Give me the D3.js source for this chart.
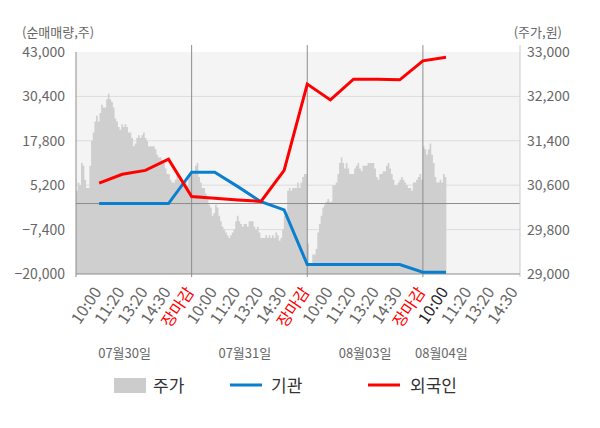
<!DOCTYPE html>
<html><head><meta charset="utf-8">
<script src="https://cdn.jsdelivr.net/npm/d3@7"></script>
<style>
body{margin:0;background:#fff}
svg{display:block}
text{font-family:"Noto Sans CJK KR","Noto Sans",sans-serif}
</style>
</head><body>
<svg id="chart" width="600" height="428"></svg>
<script>
// ---- data ----
const timeLabels = ["10:00","11:20","13:20","14:30","장마감"];
const dayLabels = ["07월30일","07월31일","08월03일","08월04일"];
const leftTicks = [-20000,-7400,5200,17800,30400,43000];
const rightTicks = [29000,29800,30600,31400,32200,33000];
// net buying at each time slot (slot 1 .. 16)
const foreignNet = [5800,8300,9400,12600,2000,1500,1000,600,9400,33900,29400,35300,35300,35100,40500,41500];
const instNet = [0,0,0,0,8900,8900,4800,500,-1800,-17300,-17300,-17300,-17300,-17300,-19500,-19500];
// intraday price per day
const priceDay1 = [30500,30650,30600,31000,30950,30700,30550,30550,30950,31400,
 31550,31750,31850,31750,31900,32050,32000,32000,32150,32250,
 32150,32100,32000,31800,31750,31650,31600,31700,31650,31700,
 31650,31550,31550,31450,31300,31350,31450,31500,31450,31500,
 31550,31450,31400,31300,31300,31300,31300,31250,31150,31100,
 31100,31050,31000,30900,30800,30800,30700,30650,30650,30700,
 30800,30700,30650,30700,30600,30650,30600,30750,30800];
const priceDay2 = [30850,30800,30950,31000,30750,30650,30550,30550,30450,30350,
 30250,30200,30050,30100,30250,30200,30050,29950,29850,29800,
 29750,29700,29650,29700,29750,29800,29950,30050,29950,29900,
 29850,29900,29900,29850,29950,29950,29950,29850,29800,29850,
 29750,29650,29650,29650,29700,29650,29700,29650,29700,29650,
 29750,29700,29600,29650,29800,30050,30100,30500,30550,30500,
 30550,30550,30550,30650,30550,30650,30750,30800,30800];
const priceDay3 = [29550,29200,29150,29350,29350,29450,29750,29900,30050,30200,
 30250,30300,30350,30300,30300,30600,30600,30650,30800,31000,
 31100,31000,30900,31000,30900,30800,30800,30800,30900,30950,
 31000,30900,30850,30950,30950,30950,31000,31000,31000,31000,
 30900,30750,30700,30800,30800,30850,30850,30950,31000,30900,
 30800,30700,30600,30600,30650,30700,30750,30700,30650,30600,
 30550,30550,30500,30650,30650,30700,30750,30800,30700];
const priceDay4 = [31300,31250,31150,31250,31350,31150,31000,30750,30650,30650,30700,30650,30800,30750];

// ---- layout ----
const svg = d3.select("#chart");
const L = 76, R = 520, T = 52, B = 274;
const nSlots = 19;
const x = d3.scaleLinear().domain([0, 19.2]).range([L, R]);
const yL = d3.scaleLinear().domain([-20000, 43000]).range([B, T]);
const yR = d3.scaleLinear().domain([29000, 33000]).range([B, T]);
const fmt = d3.format(",");

svg.append("rect").attr("x", L).attr("y", T).attr("width", R - L).attr("height", B - T).attr("fill", "#f4f4f4");

// horizontal grid
svg.append("g").selectAll("line").data(leftTicks.filter(v => v > -20000 && v < 43000)).join("line")
  .attr("x1", L).attr("x2", R).attr("y1", d => yL(d)).attr("y2", d => yL(d))
  .attr("stroke", "#dcdcdc").attr("stroke-width", 1);

// price area
const daysP = [priceDay1, priceDay2, priceDay3, priceDay4];
const pts = [];
daysP.forEach((arr, d) => {
  const step = 5 / 69;
  arr.forEach((p, i) => pts.push({s: 5 * d + i * step, p}));
});
const lastP = pts[pts.length - 1];
pts.push({s: lastP.s + 5 / 69, p: lastP.p});
svg.append("path").datum(pts)
  .attr("d", d3.area().x(d => x(d.s)).y0(B).y1(d => yR(d.p)).curve(d3.curveStepAfter))
  .attr("fill", "#cfcfcf");

// zero line
svg.append("line").attr("x1", L).attr("x2", R).attr("y1", yL(0)).attr("y2", yL(0))
  .attr("stroke", "#8c8c8c").attr("stroke-width", 1);

// day separators
svg.append("g").selectAll("line").data([5, 10, 15]).join("line")
  .attr("x1", d => x(d)).attr("x2", d => x(d)).attr("y1", T - 7).attr("y2", B + 3)
  .attr("stroke", "#8c8c8c").attr("stroke-width", 1);

// axes lines
svg.append("line").attr("x1", L).attr("x2", L).attr("y1", T).attr("y2", B + 3).attr("stroke", "#8c8c8c");
svg.append("line").attr("x1", R).attr("x2", R).attr("y1", T - 7).attr("y2", B + 3).attr("stroke", "#cccccc");
svg.append("line").attr("x1", L).attr("x2", R).attr("y1", B).attr("y2", B).attr("stroke", "#8c8c8c");

// lines
const slots = d3.range(1, foreignNet.length + 1);
const lineGen = d3.line().x(d => x(d[0])).y(d => yL(d[1]));
svg.append("path").datum(slots.map((s, i) => [s, instNet[i]]))
  .attr("d", lineGen).attr("fill", "none").attr("stroke", "#0a7fcf").attr("stroke-width", 3);
svg.append("path").datum(slots.map((s, i) => [s, foreignNet[i]]))
  .attr("d", lineGen).attr("fill", "none").attr("stroke", "#ff0000").attr("stroke-width", 3);

// left ticks
svg.append("g").selectAll("text").data(leftTicks).join("text")
  .attr("x", 65).attr("y", d => yL(d)).attr("dy", "0.35em").attr("text-anchor", "end")
  .attr("font-size", 14).attr("fill", "#666").text(d => fmt(d));
// right ticks
svg.append("g").selectAll("text").data(rightTicks).join("text")
  .attr("x", 527).attr("y", d => yR(d)).attr("dy", "0.35em").attr("text-anchor", "start")
  .attr("font-size", 14).attr("fill", "#666").text(d => fmt(d));

svg.append("text").attr("x", 22).attr("y", 37).attr("font-size", 13).attr("fill", "#666").text("(순매매량,주)");
svg.append("text").attr("x", 562).attr("y", 37).attr("text-anchor", "end").attr("font-size", 13).attr("fill", "#666").text("(주가,원)");

// x labels
const curSlot = foreignNet.length;
svg.append("g").selectAll("text").data(d3.range(1, nSlots + 1)).join("text")
  .attr("transform", s => `translate(${x(s) + 3},292) rotate(-56)`)
  .attr("text-anchor", "end").attr("font-size", 16)
  .attr("fill", s => s % 5 === 0 ? "#ff0000" : (s === curSlot ? "#222" : "#666"))
  .text(s => timeLabels[(s - 1) % 5]);

// day labels
const dayPos = [2.1, 7.3, 12.5, 15.8];
svg.append("g").selectAll("text").data(dayLabels).join("text")
  .attr("x", (d, i) => x(dayPos[i])).attr("y", 358).attr("text-anchor", "middle")
  .attr("font-size", 13).attr("fill", "#666").text(d => d);

// legend
const lg = svg.append("g");
lg.append("rect").attr("x", 114).attr("y", 378).attr("width", 32).attr("height", 15).attr("fill", "#cccccc");
lg.append("text").attr("x", 153).attr("y", 392).attr("font-size", 17).attr("fill", "#333").text("주가");
lg.append("line").attr("x1", 230).attr("x2", 262).attr("y1", 385).attr("y2", 385).attr("stroke", "#0a7fcf").attr("stroke-width", 3);
lg.append("text").attr("x", 271).attr("y", 392).attr("font-size", 17).attr("fill", "#333").text("기관");
lg.append("line").attr("x1", 368).attr("x2", 400).attr("y1", 385).attr("y2", 385).attr("stroke", "#ff0000").attr("stroke-width", 3);
lg.append("text").attr("x", 410).attr("y", 392).attr("font-size", 17).attr("fill", "#333").text("외국인");
</script>
</body></html>
